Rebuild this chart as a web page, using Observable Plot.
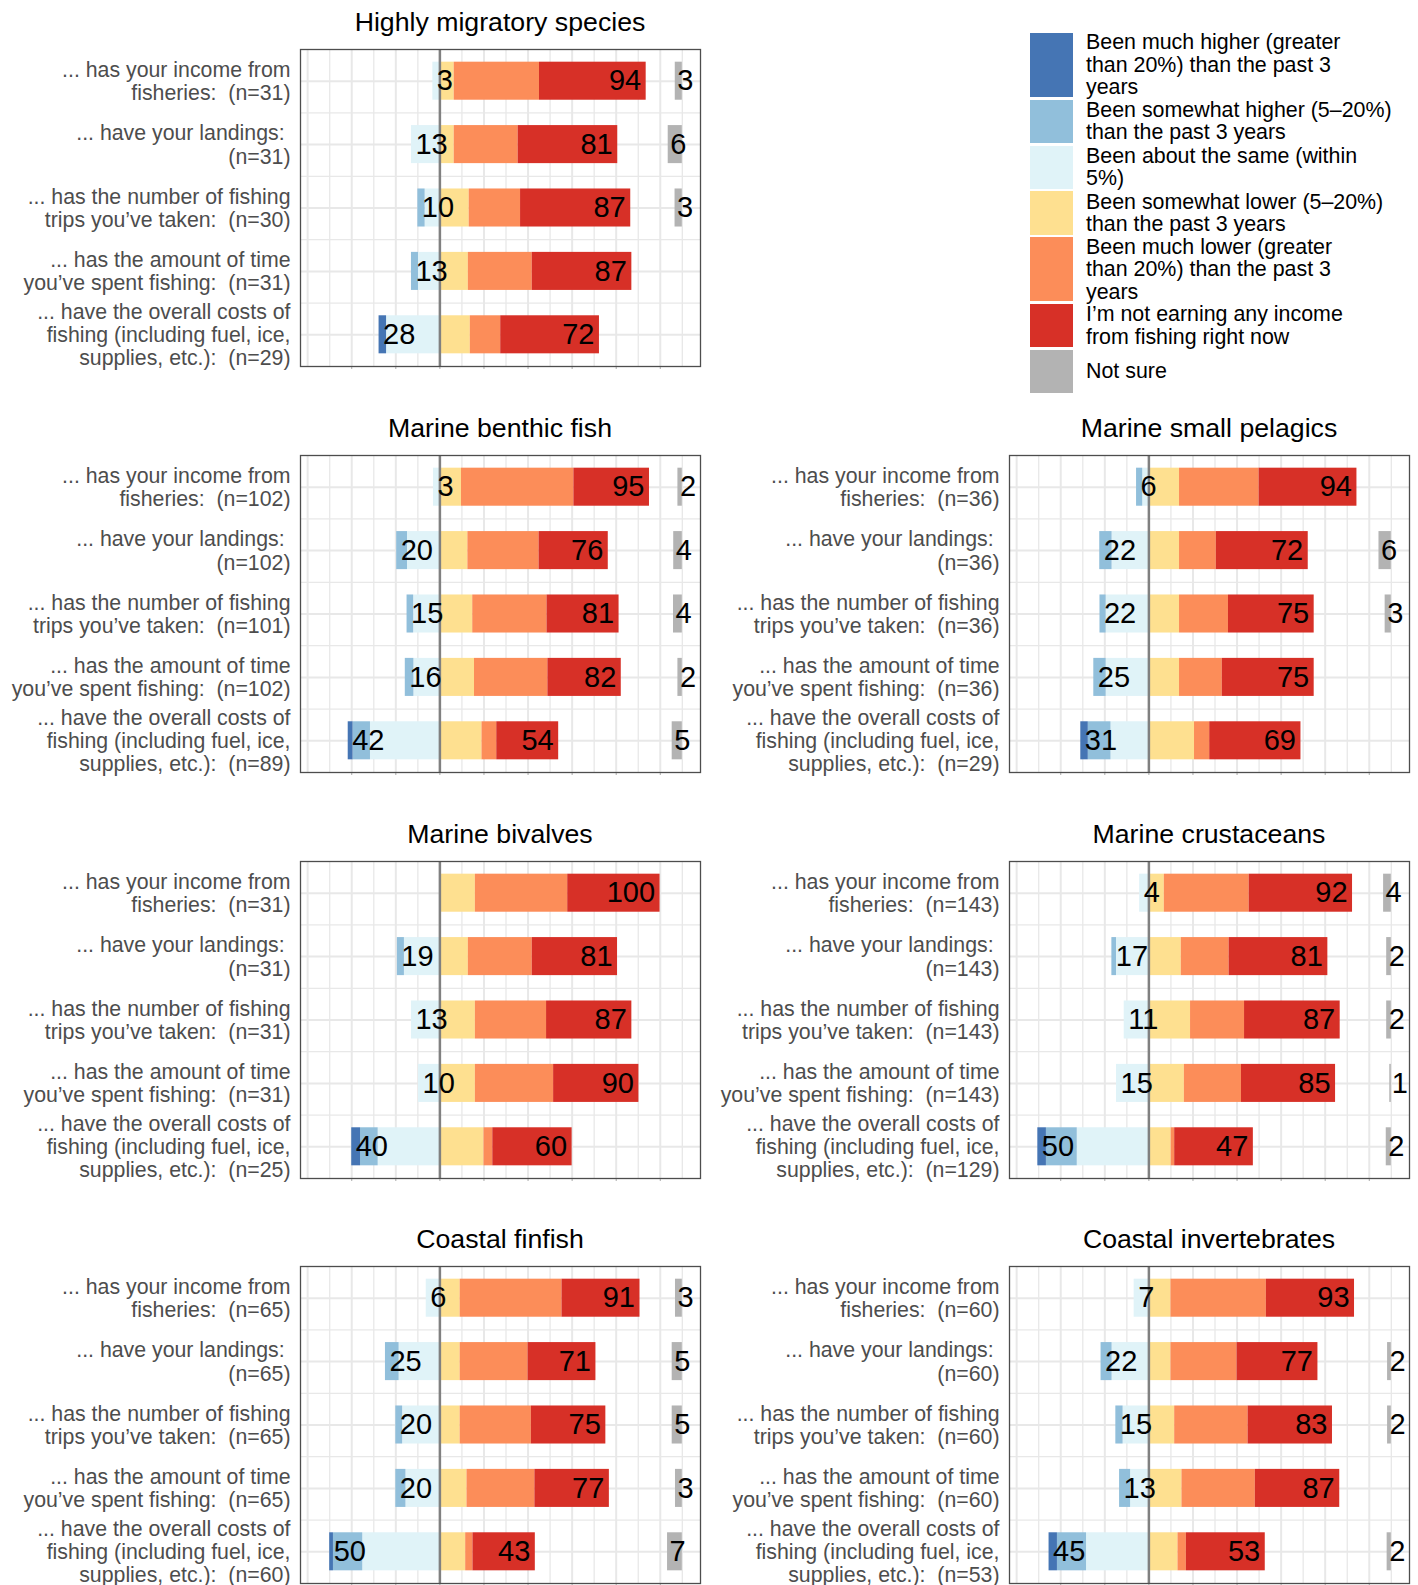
<!DOCTYPE html>
<html>
<head>
<meta charset="utf-8">
<script src="https://cdn.jsdelivr.net/npm/d3@7"></script>
<script src="https://cdn.jsdelivr.net/npm/@observablehq/plot@0.6"></script>
<style>
html, body { margin: 0; padding: 0; background: #fff; }
body { width: 1418px; height: 1585px; position: relative; overflow: hidden;
  font-family: "Liberation Sans", Arial, Helvetica, sans-serif; }
svg text, svg tspan { white-space: pre; }
.facet { position: absolute; }
.facet svg { max-width: none; display: block; }
.title { position: absolute; width: 600px; margin-left: -300px; text-align: center;
  font-size: 26.7px; line-height: 26px; color: #000; white-space: nowrap; }
.legend-item { position: absolute; left: 1030px; display: flex; align-items: center; }
.legend-key { width: 43px; flex: none; }
.legend-text { position: absolute; left: 56px; white-space: pre; font-size: 21.4px; line-height: 22.5px; color: #000; }
</style>
</head>
<body>
<div id="chart"></div>
<script>
// ---------------- data ----------------
const facets = [
  "Highly migratory species",
  "Marine benthic fish",
  "Marine small pelagics",
  "Marine bivalves",
  "Marine crustaceans",
  "Coastal finfish",
  "Coastal invertebrates"
];

const questions = [
  "... has your income from\nfisheries:  (n={n})",
  "... have your landings: \n(n={n})",
  "... has the number of fishing\ntrips you\u2019ve taken:  (n={n})",
  "... has the amount of time\nyou\u2019ve spent fishing:  (n={n})",
  "... have the overall costs of\nfishing (including fuel, ice,\nsupplies, etc.):  (n={n})"
];

const sampleSizes = [
  [31, 31, 30, 31, 29],
  [102, 102, 101, 102, 89],
  [36, 36, 36, 36, 29],
  [31, 31, 31, 31, 25],
  [143, 143, 143, 143, 129],
  [65, 65, 65, 65, 60],
  [60, 60, 60, 60, 53]
];

const categories = [
  "Been much higher (greater\nthan 20%) than the past 3\nyears",
  "Been somewhat higher (5\u201320%)\nthan the past 3 years",
  "Been about the same (within\n5%)",
  "Been somewhat lower (5\u201320%)\nthan the past 3 years",
  "Been much lower (greater\nthan 20%) than the past 3\nyears",
  "I\u2019m not earning any income\nfrom fishing right now",
  "Not sure"
];
const colors = ["#4575b4", "#91bfdb", "#e0f3f8", "#fee090", "#fc8d59", "#d73027", "#b3b3b3"];

// percentages per facet (rows = the five questions)
const muchHigher = [
  [0, 0, 0, 0, 3.4],
  [0, 0, 0, 0, 2.2],
  [0, 0, 0, 0, 3.4],
  [0, 0, 0, 0, 4],
  [0, 0, 0, 0, 3.9],
  [0, 0, 0, 0, 1.7],
  [0, 0, 0, 0, 3.8]
];
const somewhatHigher = [
  [0, 0, 3.3, 3.2, 0],
  [0, 4.9, 3.0, 3.9, 7.9],
  [2.8, 5.6, 2.8, 5.6, 10.3],
  [0, 3.2, 0, 0, 8],
  [0, 2.1, 0, 0, 14.0],
  [0, 6.2, 3.1, 4.6, 13.3],
  [0, 5, 3.3, 5, 13.2]
];
const aboutSame = [
  [3.2, 12.9, 6.7, 9.7, 24.2],
  [2.9, 14.7, 11.9, 11.8, 31.5],
  [2.8, 16.7, 19.4, 19.4, 17.2],
  [0, 16.1, 12.9, 9.7, 28],
  [4.2, 14.7, 11.2, 14.7, 32.5],
  [6.2, 18.5, 16.9, 15.4, 35.0],
  [6.7, 16.7, 11.7, 8.3, 28.3]
];
const somewhatLower = [
  [6.5, 6.5, 13.3, 12.9, 13.8],
  [9.8, 12.7, 14.9, 15.7, 19.1],
  [13.9, 13.9, 13.9, 13.9, 20.7],
  [16.1, 12.9, 16.1, 16.1, 20],
  [7.0, 14.7, 18.9, 16.1, 10.1],
  [9.2, 9.2, 9.2, 12.3, 11.7],
  [10, 10, 11.7, 15, 13.2]
];
const muchLower = [
  [38.7, 29.0, 23.3, 29.0, 13.8],
  [51.0, 32.3, 33.7, 33.3, 6.7],
  [36.1, 16.7, 22.2, 19.4, 6.9],
  [41.9, 29.0, 32.3, 35.5, 4],
  [38.5, 21.7, 24.5, 25.9, 1.6],
  [46.2, 30.8, 32.3, 30.8, 3.3],
  [43.3, 30, 33.3, 33.3, 3.8]
];
const notEarning = [
  [48.4, 45.2, 50.0, 45.2, 44.8],
  [34.3, 31.4, 32.7, 33.3, 28.1],
  [44.4, 41.7, 38.9, 41.7, 41.4],
  [41.9, 38.7, 38.7, 38.7, 36],
  [46.9, 44.8, 43.4, 42.7, 35.7],
  [35.4, 30.8, 33.8, 33.8, 28.3],
  [40, 36.7, 38.3, 38.3, 35.8]
];
const notSure = [
  [3.2, 6.4, 3.3, 0, 0],
  [2.0, 3.9, 4.0, 2.0, 4.6],
  [0, 5.6, 2.8, 0, 0],
  [0, 0, 0, 0, 0],
  [3.5, 2.1, 2.1, 0.7, 2.3],
  [3.1, 4.6, 4.6, 3.1, 6.7],
  [0, 1.7, 1.7, 0, 1.9]
];

// ---------------- layout ----------------
const xDomain = [-63.25, 118.25];   // limits [-55, 110] with 5% expansion
const NS_END = 110;                 // right end of the "not sure" column
const PANEL_W = 400, PANEL_H = 317;
const MARGIN_LEFT = 300;
const colLeft = [0, 709];
const rowTop = [49.3, 455, 860.7, 1266];
const facetCell = [[0, 0], [1, 0], [1, 1], [2, 0], [2, 1], [3, 0], [3, 1]];
const FONT = '"Liberation Sans", Arial, Helvetica, sans-serif';

const chart = document.getElementById("chart");

facets.forEach((name, f) => {
  const rows = d3.range(5).map(r => ({
    row: r + 1,
    left: muchHigher[f][r] + somewhatHigher[f][r] + aboutSame[f][r],
    right: somewhatLower[f][r] + muchLower[f][r] + notEarning[f][r],
    ns: notSure[f][r]
  }));
  const segs = [];
  d3.range(5).forEach(r => {
    let acc = 0;
    [[aboutSame, 2], [somewhatHigher, 1], [muchHigher, 0]].forEach(([arr, k]) => {
      const v = arr[f][r];
      if (v > 0) segs.push({row: r + 1, x1: -(acc + v), x2: -acc, cat: categories[k]});
      acc += v;
    });
    acc = 0;
    [[somewhatLower, 3], [muchLower, 4], [notEarning, 5]].forEach(([arr, k]) => {
      const v = arr[f][r];
      if (v > 0) segs.push({row: r + 1, x1: acc, x2: acc + v, cat: categories[k]});
      acc += v;
    });
    const ns = notSure[f][r];
    if (ns > 0) segs.push({row: r + 1, x1: NS_END - ns, x2: NS_END, cat: categories[6]});
  });

  const label = i => questions[i - 1].replace("{n}", sampleSizes[f][i - 1]);

  const plot = Plot.plot({
    width: MARGIN_LEFT + PANEL_W + 10,
    height: PANEL_H + 2 + 8,
    marginLeft: MARGIN_LEFT,
    marginRight: 10,
    marginTop: 2,
    marginBottom: 8,
    style: {fontFamily: FONT, background: "transparent", overflow: "visible"},
    x: {domain: xDomain, axis: null, label: null},
    y: {domain: [0.5, 5.5], reverse: true, axis: null, label: null},
    color: {domain: categories, range: colors},
    marks: [
      Plot.ruleX(d3.range(-50, 111, 20), {stroke: "#e8e8e8", strokeWidth: 1.3}),
      Plot.ruleX(d3.range(-60, 101, 20), {stroke: "#e8e8e8", strokeWidth: 2}),
      Plot.ruleY([1.5, 2.5, 3.5, 4.5], {stroke: "#e8e8e8", strokeWidth: 1.3}),
      Plot.ruleY([1, 2, 3, 4, 5], {stroke: "#e8e8e8", strokeWidth: 2}),
      Plot.rect(segs, {x1: "x1", x2: "x2", y1: d => d.row - 0.3, y2: d => d.row + 0.3, fill: "cat"}),
      Plot.ruleX([0], {stroke: "#808080", strokeWidth: 2.5}),
      Plot.text(rows.filter(d => d.left > 0), {
        x: d => -d.left, y: "row", text: d => String(Math.round(d.left)),
        textAnchor: "start", dx: 4, fontSize: 29, fill: "#000"
      }),
      Plot.text(rows.filter(d => d.right > 0), {
        x: "right", y: "row", text: d => String(Math.round(d.right)),
        textAnchor: "end", dx: -5, fontSize: 29, fill: "#000"
      }),
      Plot.text(rows.filter(d => d.ns > 0), {
        x: d => NS_END - d.ns, y: "row", text: d => String(Math.round(d.ns)),
        textAnchor: "start", dx: 2, fontSize: 29, fill: "#000"
      }),
      Plot.axisY({
        ticks: [1, 2, 3, 4, 5], tickFormat: label, tickSize: 0, tickPadding: 10,
        fontSize: 21.3, lineHeight: 1.09, color: "#4d4d4d", label: null
      }),
      Plot.axisX({
        ticks: d3.range(-40, 101, 20), tickFormat: () => "", tickSize: 3,
        stroke: "#aaaaaa", label: null
      }),
      Plot.frame({stroke: "#4d4d4d", strokeWidth: 1.3})
    ]
  });

  const [rIdx, cIdx] = facetCell[f];
  const wrap = document.createElement("div");
  wrap.className = "facet";
  wrap.style.left = colLeft[cIdx] + "px";
  wrap.style.top = (rowTop[rIdx] - 2) + "px";
  wrap.style.width = (MARGIN_LEFT + PANEL_W + 10) + "px";
  wrap.appendChild(plot);
  chart.appendChild(wrap);

  const t = document.createElement("div");
  t.className = "title";
  t.textContent = name;
  t.style.left = (colLeft[cIdx] + MARGIN_LEFT + PANEL_W / 2) + "px";
  t.style.top = (rowTop[rIdx] - 40) + "px";
  chart.appendChild(t);
});

// ---------------- legend ----------------
let ly = 33;
categories.forEach((c, i) => {
  const lines = c.split("\n").length;
  const h = lines >= 3 ? 64 : 43.3;
  const item = document.createElement("div");
  item.className = "legend-item";
  item.style.top = ly + "px";
  item.style.height = h + "px";
  const key = document.createElement("div");
  key.className = "legend-key";
  key.style.height = h + "px";
  key.style.background = colors[i];
  const txt = document.createElement("div");
  txt.className = "legend-text";
  txt.textContent = c;
  item.appendChild(key);
  item.appendChild(txt);
  chart.appendChild(item);
  ly += h + 2.6;
});
</script>
</body>
</html>
